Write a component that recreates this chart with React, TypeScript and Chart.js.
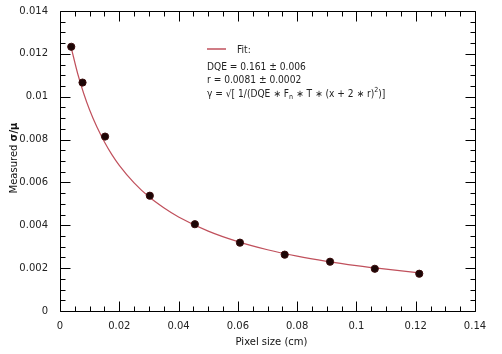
import React, { useEffect, useRef } from "react";
import { Chart, registerables } from "chart.js";

Chart.register(...registerables);

// Measured points
const pixelSize = [0.0038, 0.0076, 0.0152, 0.0303, 0.0455, 0.0607, 0.0758, 0.0911, 0.1062, 0.1212];
const measured = [0.01233, 0.01066, 0.00814, 0.00538, 0.00405, 0.00319, 0.00263, 0.0023, 0.00197, 0.00174];

// Fit curve
const fitX = [0.0038, 0.006, 0.008, 0.01, 0.0125, 0.015, 0.0175, 0.02, 0.025, 0.03, 0.035, 0.04, 0.05, 0.06, 0.07, 0.08, 0.09, 0.1, 0.11, 0.1212];
const fitY = [0.01228, 0.01106, 0.01015, 0.00938, 0.00857, 0.00789, 0.0073, 0.0068, 0.00598, 0.00533, 0.00482, 0.00439, 0.00373, 0.00324, 0.00286, 0.00256, 0.00232, 0.00212, 0.00195, 0.00178];

// Ticks
const xTickValues = [0, 0.02, 0.04, 0.06, 0.08, 0.1, 0.12, 0.14];
const xTickLabels = ["0", "0.02", "0.04", "0.06", "0.08", "0.1", "0.12", "0.14"];
const yTickValues = [0, 0.002, 0.004, 0.006, 0.008, 0.01, 0.012, 0.014];
const yTickLabels = ["0", "0.002", "0.004", "0.006", "0.008", "0.01", "0.012", "0.014"];

const legendTitle = "Fit:";
const legendLines = ["DQE = 0.161 ± 0.006", "r = 0.0081 ± 0.0002"];
const xTitle = "Pixel size (cm)";
const yTitle = ["Measured ", "σ/μ"];

const FONT = '"DejaVu Sans"';
const CURVE = "#c0505c";

const decorPlugin = {
  id: "decor",
  afterDraw(chart: any) {
    const { ctx, chartArea: a } = chart;
    const xs = chart.scales.x;
    const ys = chart.scales.y;
    ctx.save();
    ctx.strokeStyle = "#000";
    ctx.lineWidth = 1;
    const L = Math.round(a.left) + 0.5;
    const R = Math.round(a.right) + 0.5;
    const T = Math.round(a.top) + 0.5;
    const B = Math.round(a.bottom) + 0.5;
    ctx.beginPath();
    ctx.rect(L, T, R - L, B - T);
    for (let i = 0; i <= 28; i++) {
      const v = i * 0.005;
      const len = i % 4 === 0 ? 10 : 5;
      const px = Math.round(xs.getPixelForValue(v)) + 0.5;
      ctx.moveTo(px, B);
      ctx.lineTo(px, B - len);
      ctx.moveTo(px, T);
      ctx.lineTo(px, T + len);
    }
    for (let i = 0; i <= 28; i++) {
      const v = i * 0.0005;
      const len = i % 4 === 0 ? 10 : 5;
      const py = Math.round(ys.getPixelForValue(v)) + 0.5;
      ctx.moveTo(L, py);
      ctx.lineTo(L + len, py);
      ctx.moveTo(R, py);
      ctx.lineTo(R - len, py);
    }
    ctx.stroke();

    // axis titles
    ctx.fillStyle = "#111";
    ctx.textBaseline = "middle";
    ctx.font = `10px ${FONT}`;
    ctx.textAlign = "center";
    ctx.fillText(xTitle, (a.left + a.right) / 2 + 4, 342);

    ctx.save();
    ctx.translate(14, (a.top + a.bottom) / 2 - 3);
    ctx.rotate(-Math.PI / 2);
    ctx.font = `10px ${FONT}`;
    const w1 = ctx.measureText(yTitle[0]).width;
    ctx.font = `bold 10px ${FONT}`;
    const w2 = ctx.measureText(yTitle[1]).width;
    const sx = -(w1 + w2) / 2;
    ctx.textAlign = "left";
    ctx.font = `10px ${FONT}`;
    ctx.fillText(yTitle[0], sx, 0);
    ctx.font = `bold 10px ${FONT}`;
    ctx.fillText(yTitle[1], sx + w1, 0);
    ctx.restore();

    // legend
    ctx.strokeStyle = CURVE;
    ctx.lineWidth = 1.5;
    ctx.beginPath();
    ctx.moveTo(207, 49);
    ctx.lineTo(226, 49);
    ctx.stroke();
    ctx.textAlign = "left";
    ctx.fillStyle = "#222";
    ctx.save();
    ctx.translate(207, 0);
    ctx.scale(0.91, 1);
    ctx.font = `10px ${FONT}`;
    ctx.fillText(legendTitle, 30 / 0.91, 50);
    ctx.fillText(legendLines[0], 0, 67);
    ctx.fillText(legendLines[1], 0, 80);
    const segs: [string, number, number][] = [
      ["γ = √[ 1/(DQE ∗ F", 10, 0],
      ["n", 7, 3],
      [" ∗ T ∗ (x + 2 ∗ r)", 10, 0],
      ["2", 7, -4],
      [")]", 10, 0],
    ];
    let cx = 0;
    for (const [t, s, dy] of segs) {
      ctx.font = `${s}px ${FONT}`;
      ctx.fillText(t, cx, 94 + dy);
      cx += ctx.measureText(t).width;
    }
    ctx.restore();
    ctx.restore();
  },
};

export default function App() {
  const ref = useRef<HTMLCanvasElement | null>(null);
  useEffect(() => {
    if (!ref.current) return;
    const chart = new Chart(ref.current, {
      type: "scatter",
      data: {
        datasets: [
          {
            type: "scatter",
            label: "Measured",
            data: pixelSize.map((x, i) => ({ x, y: measured[i] })),
            pointRadius: 3.6,
            pointBackgroundColor: "#1c0606",
            pointBorderColor: "#3a0c0c",
            pointBorderWidth: 1,
            order: 0,
          },
          {
            type: "line",
            label: "Fit",
            data: fitX.map((x, i) => ({ x, y: fitY[i] })),
            borderColor: CURVE,
            borderWidth: 1.2,
            pointRadius: 0,
            cubicInterpolationMode: "monotone",
            fill: false,
            order: 1,
          } as any,
        ],
      },
      options: {
        animation: false,
        responsive: false,
        devicePixelRatio: 1,
        layout: { padding: { top: 11, right: 27, left: 0, bottom: 0 } },
        plugins: { legend: { display: false }, tooltip: { enabled: false } },
        scales: {
          x: {
            type: "linear",
            min: 0,
            max: 0.14,
            grid: { display: false, drawTicks: false },
            border: { display: false },
            afterBuildTicks: (s: any) => {
              s.ticks = xTickValues.map((v) => ({ value: v }));
            },
            afterFit: (s: any) => {
              s.height = 43;
              s.paddingLeft = 0;
              s.paddingRight = 0;
            },
            ticks: {
              padding: 9,
              maxRotation: 0,
              autoSkip: false,
              color: "#222",
              font: { family: "DejaVu Sans", size: 10 },
              callback: (_v: any, i: number) => xTickLabels[i],
            },
          },
          y: {
            type: "linear",
            min: 0,
            max: 0.014,
            grid: { display: false, drawTicks: false },
            border: { display: false },
            afterBuildTicks: (s: any) => {
              s.ticks = yTickValues.map((v) => ({ value: v }));
            },
            afterFit: (s: any) => {
              s.width = 60;
              s.paddingTop = 0;
              s.paddingBottom = 0;
            },
            ticks: {
              padding: 12,
              autoSkip: false,
              color: "#222",
              font: { family: "DejaVu Sans", size: 10 },
              callback: (_v: any, i: number) => yTickLabels[i],
            },
          },
        },
      },
      plugins: [decorPlugin],
    });
    return () => chart.destroy();
  }, []);
  return (
    <div style={{ position: "fixed", left: 0, top: 0, width: 502, height: 354, background: "#fff" }}>
      <canvas ref={ref} width={502} height={354} style={{ width: 502, height: 354, display: "block" }} />
    </div>
  );
}
